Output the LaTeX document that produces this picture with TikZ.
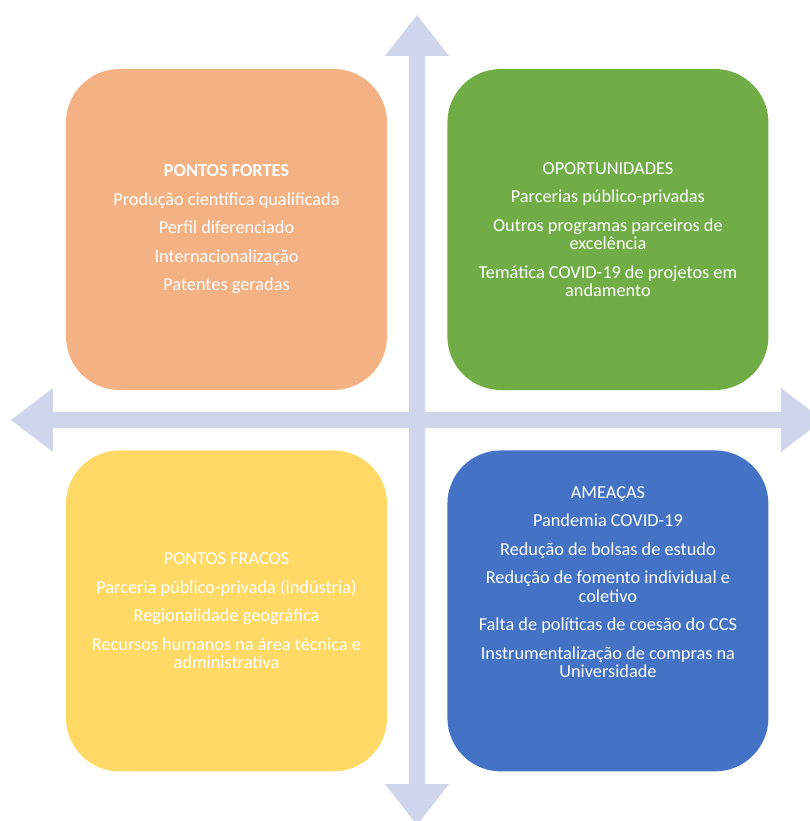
\documentclass[tikz,border=0pt]{standalone}
\usepackage{fontspec}
\setmainfont{Carlito}
\usetikzlibrary{positioning,calc}
\definecolor{axis}{RGB}{207,213,234}
\definecolor{forteC}{RGB}{244,177,131}
\definecolor{oportC}{RGB}{112,173,71}
\definecolor{fracoC}{RGB}{255,217,102}
\definecolor{ameacaC}{RGB}{68,114,196}
\begin{document}
\begin{tikzpicture}[x=1pt,y=-1pt,
    quad/.style={rectangle, rounded corners=53.5pt, minimum width=321pt, minimum height=321pt, inner sep=0pt},
    txt/.style={text=white, align=center, inner sep=0pt, font=\fontsize{18.3}{18.3}\selectfont}]
      \clip (0,0) rectangle (810,821);
      % axes
      \coordinate (c) at (417,420);
      \fill[axis] (409,784) -- (409,56) -- (385,56) -- (417,15) -- (449,56) -- (425,56) -- (425,784) -- (449,784) -- (417,825) -- (385,784) -- cycle;
      \fill[axis] (53,412) -- (781,412) -- (781,388) -- (823,420) -- (781,452) -- (781,428) -- (53,428) -- (53,452) -- (11,420) -- (53,388) -- cycle;

      % quadrants
      \node[quad, fill=forteC] at (226.5,229.5) (forte) {};
      \node[quad, fill=oportC, right=60pt of forte] (oport) {};
      \node[quad, fill=fracoC, below=60pt of forte] (fraco) {};
      \node[quad, fill=ameacaC, below=60pt of oport] (ameaca) {};

      \node[txt] at (forte) (forteTxt) {\textbf{PONTOS FORTES}\\[10.2pt]
        Produção científica qualificada\\[10.2pt] Perfil diferenciado\\[10.2pt]
        Internacionalização\\[10.2pt] Patentes geradas};
      \node[txt] at (oport) (oportTxt) {OPORTUNIDADES\\[10.2pt] Parcerias público-privadas\\[10.2pt]
        Outros programas parceiros de\\ excelência\\[10.2pt]
        Temática COVID-19 de projetos em\\ andamento};
      \node[txt] at (fraco) (fracoTxt) {PONTOS FRACOS\\[10.2pt] Parceria público-privada (indústria)\\[10.2pt]
        Regionalidade geográfica\\[10.2pt]
        Recursos humanos na área técnica e\\ administrativa};
      \node[txt] at ($(ameaca)+(0,-29)$) (ameacaTxt) {AMEAÇAS\\[10.2pt] Pandemia COVID-19\\[10.2pt]
        Redução de bolsas de estudo\\[10.2pt]
        Redução de fomento individual e\\ coletivo\\[10.2pt]
        Falta de políticas de coesão do CCS\\[10.2pt]
        Instrumentalização de compras na\\ Universidade};
    \end{tikzpicture}
\end{document}
